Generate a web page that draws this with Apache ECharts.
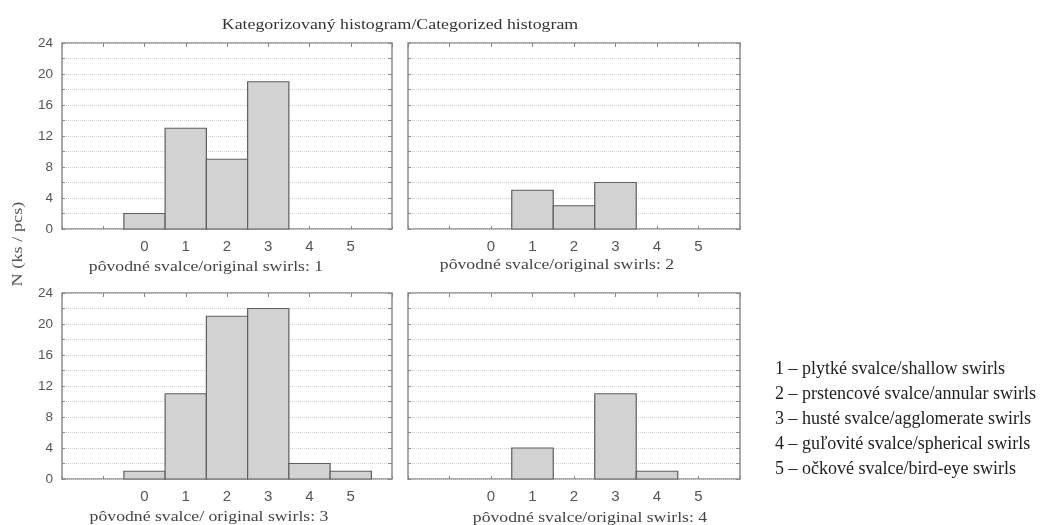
<!DOCTYPE html>
<html>
<head>
<meta charset="utf-8">
<script src="https://cdn.jsdelivr.net/npm/echarts@6/dist/echarts.min.js"></script>
<style>html,body{margin:0;padding:0;background:#fff}#c{width:1042px;height:525px}</style>
</head>
<body>
<div id="c"></div>
<script>
// ---- data ----
const categories = [0, 1, 2, 3, 4, 5];
const swirls1 = [2, 13, 9, 19, 0, 0];
const swirls2 = [0, 5, 3, 6, 0, 0];
const swirls3 = [1, 11, 21, 22, 2, 1];
const swirls4 = [0, 4, 0, 11, 1, 0];
const yTickLabels = [0, 4, 8, 12, 16, 20, 24];
const titleText = 'Kategorizovaný histogram/Categorized histogram';
const yAxisTitle = 'N (ks / pcs)';
const captions = [
  'pôvodné svalce/original swirls: 1',
  'pôvodné svalce/original swirls: 2',
  'pôvodné svalce/ original swirls: 3',
  'pôvodné svalce/original swirls: 4'
];
const legendLines = [
  '1 – plytké svalce/shallow swirls',
  '2 – prstencové svalce/annular swirls',
  '3 – husté svalce/agglomerate swirls',
  '4 – guľovité svalce/spherical swirls',
  '5 – očkové svalce/bird-eye swirls'
];
const panelSeries = [swirls1, swirls2, swirls3, swirls4];

// ---- layout ----
const grids = [
  {left: 62, top: 43, width: 330, height: 186},
  {left: 408, top: 43, width: 332, height: 186},
  {left: 62, top: 293, width: 330, height: 186},
  {left: 408, top: 293, width: 332, height: 186}
];
const showYLabels = [true, false, true, false];
const captionPos = [[206, 267], [557, 265], [209, 517], [590, 518]];

const chart = echarts.init(document.getElementById('c'), null, {renderer: 'canvas'});

const tickColor = '#888';
const xAxes = [], yAxes = [], series = [];
grids.forEach((g, i) => {
  xAxes.push({
    gridIndex: i, type: 'value', min: -2, max: 6, interval: 1, position: 'bottom',
    axisLine: {show: false, onZero: false},
    axisTick: {show: true, inside: true, length: 3, lineStyle: {color: tickColor}},
    splitLine: {show: false},
    axisLabel: {
      formatter: v => categories.indexOf(v) >= 0 ? String(v) : '',
      fontSize: 15, color: '#555', margin: 10, fontFamily: 'Liberation Sans'
    }
  });
  xAxes.push({
    gridIndex: i, type: 'value', min: -2, max: 6, interval: 1, position: 'top',
    axisLine: {show: false, onZero: false},
    axisTick: {show: true, inside: true, length: 4, lineStyle: {color: tickColor}},
    splitLine: {show: false}, axisLabel: {show: false}
  });
  yAxes.push({
    gridIndex: i, type: 'value', min: 0, max: 24, interval: 2, position: 'left',
    axisLine: {show: false, onZero: false},
    axisTick: {show: true, inside: true, length: 3, lineStyle: {color: tickColor}},
    splitLine: {show: true, lineStyle: {color: '#cfcfcf', type: 'dotted', width: 1}},
    axisLabel: {
      show: showYLabels[i],
      formatter: v => yTickLabels.indexOf(v) >= 0 ? String(v) : '',
      fontSize: 13.5, color: '#555', margin: 9, fontFamily: 'Liberation Sans',
      padding: [5, 0, 0, 0]
    }
  });
  yAxes.push({
    gridIndex: i, type: 'value', min: 0, max: 24, interval: 2, position: 'right',
    axisLine: {show: false, onZero: false},
    axisTick: {show: true, inside: true, length: 4, lineStyle: {color: tickColor}},
    splitLine: {show: false}, axisLabel: {show: false}
  });
  series.push({
    type: 'custom',
    xAxisIndex: i * 2, yAxisIndex: i * 2,
    data: categories.map((c, k) => [c, panelSeries[i][k]]),
    renderItem: function (params, api) {
      const x = api.value(0), y = api.value(1);
      if (!y) return {type: 'group', children: []};
      const p0 = api.coord([x - 0.5, y]);
      const p1 = api.coord([x + 0.5, 0]);
      return {
        type: 'rect',
        shape: {x: p0[0], y: p0[1], width: p1[0] - p0[0], height: p1[1] - p0[1]},
        style: {fill: '#d2d2d2', stroke: '#5e5e5e', lineWidth: 1.2}
      };
    },
    silent: true
  });
});

const graphics = [];
graphics.push({
  type: 'text', x: 400, y: 25, scaleX: 1.15,
  style: {text: titleText, font: '15.5px "Liberation Serif"', fill: '#333', align: 'center', verticalAlign: 'middle'}
});
graphics.push({
  type: 'text', x: 18, y: 244, rotation: Math.PI / 2, scaleX: 1.22,
  style: {text: yAxisTitle, font: '15px "Liberation Serif"', fill: '#555', align: 'center', verticalAlign: 'middle'}
});
captions.forEach((t, i) => {
  graphics.push({
    type: 'text', x: captionPos[i][0], y: captionPos[i][1], scaleX: 1.22,
    style: {text: t, font: '14.5px "Liberation Serif"', fill: '#444', align: 'center', verticalAlign: 'middle'}
  });
});
legendLines.forEach((t, i) => {
  graphics.push({
    type: 'text', x: 775, y: 369 + i * 25,
    style: {text: t, font: '18px "Liberation Serif"', fill: '#222', align: 'left', verticalAlign: 'middle'}
  });
});

chart.setOption({
  animation: false,
  backgroundColor: '#fff',
  grid: grids.map(g => Object.assign({show: true, borderColor: '#8c8c8c', borderWidth: 1.5, backgroundColor: 'transparent', containLabel: false}, g)),
  xAxis: xAxes,
  yAxis: yAxes,
  series: series,
  graphic: graphics
});
</script>
</body>
</html>
